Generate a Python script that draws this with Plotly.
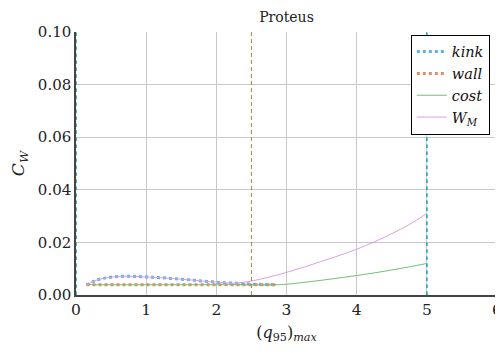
import plotly.graph_objects as go

# ---- data ----
kink_x = [0.15, 0.3, 0.45, 0.6, 0.75, 0.9, 1.05, 1.2, 1.35, 1.5, 1.65, 1.8, 1.95, 2.1, 2.25, 2.4, 2.55, 2.7, 2.85]
kink_y = [0.0038, 0.0057, 0.0066, 0.0070, 0.0071, 0.0070, 0.0068, 0.0066, 0.0063, 0.0060, 0.0057, 0.0053, 0.0050, 0.0047, 0.0045, 0.0043, 0.0041, 0.0040, 0.0039]

wall_x = [0.15, 0.5, 1.0, 1.5, 2.0, 2.5, 2.85]
wall_y = [0.0039, 0.0039, 0.0039, 0.0039, 0.0039, 0.0039, 0.0039]

cost_x = [0.15, 1.0, 2.0, 2.85, 3.0, 3.25, 3.5, 3.75, 4.0, 4.25, 4.5, 4.75, 5.0]
cost_y = [0.0039, 0.0039, 0.0039, 0.0039, 0.0041, 0.0048, 0.0056, 0.0065, 0.0074, 0.0084, 0.0095, 0.0107, 0.0120]

wm_x = [0.15, 0.3, 0.45, 0.6, 0.75, 0.9, 1.05, 1.2, 1.35, 1.5, 1.65, 1.8, 1.95, 2.1, 2.25,
        2.5, 2.75, 3.0, 3.25, 3.5, 3.75, 4.0, 4.25, 4.5, 4.75, 5.0]
wm_y = [0.0038, 0.0057, 0.0066, 0.0070, 0.0071, 0.0070, 0.0068, 0.0066, 0.0063, 0.0060, 0.0057, 0.0053, 0.0050, 0.0047, 0.0045,
        0.0053, 0.0068, 0.0086, 0.0106, 0.0128, 0.0150, 0.0174, 0.0202, 0.0233, 0.0268, 0.0310]

vlines_outer = [0, 5]
vline_mid = [2.5]

FONT = "DejaVu Serif"

fig = go.Figure()
fig.add_trace(go.Scatter(x=kink_x, y=kink_y, mode="lines", name="<i>kink</i>",
                         line=dict(color="#5AB2EE", width=3, dash="dot", shape="spline")))
fig.add_trace(go.Scatter(x=wall_x, y=wall_y, mode="lines", name="<i>wall</i>",
                         line=dict(color="#E98B62", width=3, dash="dot")))
fig.add_trace(go.Scatter(x=cost_x, y=cost_y, mode="lines", name="<i>cost</i>",
                         line=dict(color="#74BE78", width=1, shape="spline")))
fig.add_trace(go.Scatter(x=wm_x, y=wm_y, mode="lines", name="<i>W<sub>M</sub></i>",
                         line=dict(color="#DA9FE3", width=1, shape="spline")))

for xv in vlines_outer:
    fig.add_shape(type="line", x0=xv, x1=xv, y0=0, y1=1, xref="x", yref="paper",
                  line=dict(color="#333", width=1, dash="3px,4px"), layer="above")
    fig.add_shape(type="line", x0=xv, x1=xv, y0=0, y1=1, xref="x", yref="paper",
                  line=dict(color="#17BECF", width=1.2, dash="4px,3px"), layer="above")
for xv in vline_mid:
    fig.add_shape(type="line", x0=xv, x1=xv, y0=0, y1=1, xref="x", yref="paper",
                  line=dict(color="#A08850", width=1, dash="4px,3px"), layer="above")

# the page body has an 8px margin, so the figure is sized to fit inside the window
fig.update_layout(
    width=495, height=345,
    margin=dict(l=68, r=6, t=24, b=58, autoexpand=False),
    paper_bgcolor="white", plot_bgcolor="white",
    font=dict(family=FONT, size=15, color="#222"),
    title=dict(text="Proteus", x=0.5, xanchor="center", xref="paper", y=0.974, yanchor="middle",
               font=dict(family=FONT, size=14, color="#222")),
    showlegend=True,
    legend=dict(x=0.983, y=0.99, xanchor="right", yanchor="top",
                bordercolor="black", borderwidth=1, bgcolor="white",
                font=dict(family=FONT, size=14.5, color="#111"),
                tracegroupgap=0, itemwidth=30),
)
fig.update_xaxes(range=[0, 6], tickvals=[0, 1, 2, 3, 4, 5, 6], ticktext=["0", "1", "2", "3", "4", "5", "6"],
                 showgrid=True, gridcolor="#C8C8C8", gridwidth=1, zeroline=False, automargin=False,
                 showline=True, linecolor="#444", linewidth=1.5, mirror=False, ticks="",
                 tickfont=dict(family=FONT, size=15.5, color="#222"),
                 title=dict(text="(<i>q</i><sub>95</sub>)<sub><i>max</i></sub>", font=dict(family=FONT, size=16), standoff=8))
fig.update_yaxes(range=[0, 0.1], tickvals=[0, 0.02, 0.04, 0.06, 0.08, 0.10],
                 ticktext=["0.00", "0.02", "0.04", "0.06", "0.08", "0.10"],
                 showgrid=True, gridcolor="#C8C8C8", gridwidth=1, zeroline=False, automargin=False,
                 showline=True, linecolor="#444", linewidth=1.5, ticks="",
                 tickfont=dict(family=FONT, size=15, color="#222"),
                 title=dict(text="<i>C</i><sub><i>W</i></sub>", font=dict(family=FONT, size=17), standoff=10))

fig.write_html("out.html")
